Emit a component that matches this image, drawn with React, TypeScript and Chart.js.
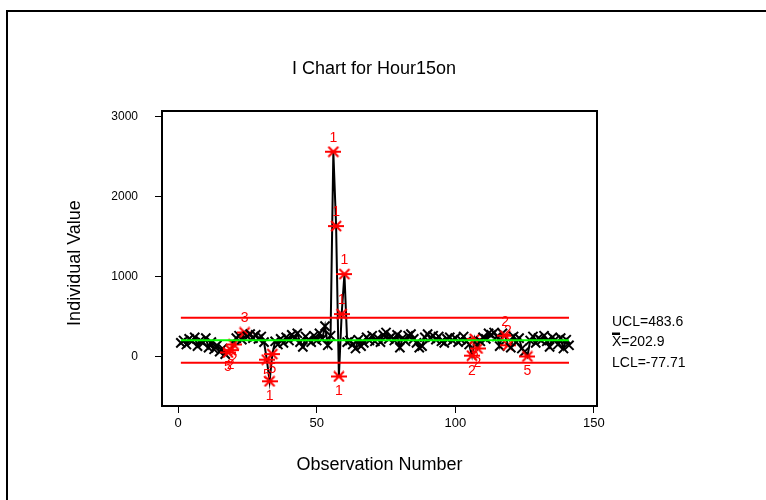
import { useEffect, useRef } from "react";
import { Chart, registerables } from "chart.js";
Chart.register(...registerables);

const VALUES: number[] = [
  170, 200, 150, 220, 190, 240, 130, 200, 170, 230,
  110, 180, 90, 140, 60, 100, 30, 50, 80, 150,
  230, 260, 210, 300, 250, 280, 230, 270, 220, 250,
  180, -40, -310, 30, 190, 150, 220, 170, 240, 200,
  270, 230, 290, 180, 120, 250, 210, 180, 260, 200,
  290, 220, 380, 140, 260, 2560, 1630, -250, 530, 1030,
  180, 200, 150, 100, 210, 130, 170, 240, 200, 260,
  190, 230, 180, 270, 300, 220, 250, 200, 270, 110,
  230, 190, 260, 280, 220, 170, 110, 130, 240, 280,
  230, 260, 210, 250, 190, 170, 220, 240, 200, 230,
  180, 210, 250, 190, 150, 10, 220, 100, 190, 240,
  220, 290, 270, 300, 250, 130, 290, 260, 140, 110,
  250, 180, 230, 100, 60, 0, 200, 250, 170, 230,
  200, 260, 190, 120, 240, 210, 150, 230, 100, 210,
  140,
];

const FLAG_INDEX: number[] = [18, 19, 20, 24, 32, 33, 34, 56, 57, 58, 59, 60, 106, 107, 108, 118, 119, 126];
const FLAG_TEXT: string[] = ["5", "2", "2", "3", "5", "1", "5", "1", "1", "1", "1", "1", "2", "5", "2", "2", "2", "5"];
const FLAG_BELOW: boolean[] = [true, true, true, false, true, true, true, false, false, true, false, false, true, true, true, false, false, true];

const UCL = 483.6;
const CENTER = 202.9;
const LCL = -77.71;
const CONTROL_LABELS = ["UCL=483.6", "X=202.9", "LCL=-77.71"];

const X_TICKS = [0, 50, 100, 150];
const Y_TICKS = [0, 1000, 2000, 3000];

const TITLE = "I Chart for Hour15on";
const X_TITLE = "Observation Number";
const Y_TITLE = "Individual Value";

const FONT = "'Liberation Sans', Arial, sans-serif";

function makeStar(color: string): HTMLCanvasElement {
  const c = document.createElement("canvas");
  c.width = 16;
  c.height = 12;
  const g = c.getContext("2d")!;
  g.strokeStyle = color;
  g.lineWidth = 2;
  g.beginPath();
  g.moveTo(3, 1);
  g.lineTo(13, 11);
  g.moveTo(13, 1);
  g.lineTo(3, 11);
  g.moveTo(0, 6);
  g.lineTo(16, 6);
  g.stroke();
  return c;
}

export default function App() {
  const ref = useRef<HTMLCanvasElement | null>(null);

  useEffect(() => {
    if (!ref.current) return;
    const star = makeStar("#ff0000");
    const n = VALUES.length;
    const flagged = new Set(FLAG_INDEX);

    const decor = {
      id: "decor",
      afterDatasetsDraw(chart: any) {
        const ctx = chart.ctx as CanvasRenderingContext2D;
        const xs = chart.scales.x;
        const ys = chart.scales.y;
        const a = chart.chartArea;
        ctx.save();
        ctx.fillStyle = "#ff0000";
        ctx.font = `14px ${FONT}`;
        ctx.textAlign = "center";
        ctx.textBaseline = "middle";
        FLAG_INDEX.forEach((idx, k) => {
          const px = xs.getPixelForValue(idx);
          const py = ys.getPixelForValue(VALUES[idx - 1]);
          ctx.fillText(FLAG_TEXT[k], px, FLAG_BELOW[k] ? py + 15 : py - 14);
        });
        ctx.strokeStyle = "#000";
        ctx.lineWidth = 2;
        ctx.strokeRect(a.left, a.top, a.right - a.left, a.bottom - a.top);
        ctx.strokeRect(7, 11, 1000, 1000);
        ctx.fillStyle = "#000";
        ctx.font = `18px ${FONT}`;
        ctx.fillText(TITLE, 374, 69);
        ctx.fillText(X_TITLE, (a.left + a.right) / 2, 465);
        ctx.save();
        ctx.translate(75, 263);
        ctx.rotate(-Math.PI / 2);
        ctx.fillText(Y_TITLE, 0, 0);
        ctx.restore();
        ctx.font = `14px ${FONT}`;
        ctx.textAlign = "left";
        const vals = [UCL, CENTER, LCL];
        const offs = [4, 2, 0];
        vals.forEach((v, k) => {
          const py = ys.getPixelForValue(v) + offs[k];
          ctx.fillText(CONTROL_LABELS[k], a.right + 15, py);
          if (k === 1) {
            ctx.lineWidth = 2.5;
            ctx.beginPath();
            ctx.moveTo(a.right + 15, py - 8.5);
            ctx.lineTo(a.right + 23, py - 8.5);
            ctx.stroke();
          }
        });
        ctx.restore();
      },
    };

    const line = (v: number) => [
      { x: 1, y: v },
      { x: n, y: v },
    ];

    const chart = new Chart(ref.current, {
      type: "scatter",
      data: {
        datasets: [
          { data: line(UCL), showLine: true, borderColor: "#ff0000", borderWidth: 2, pointRadius: 0, order: 1 },
          { data: line(LCL), showLine: true, borderColor: "#ff0000", borderWidth: 2, pointRadius: 0, order: 1 },
          { data: line(CENTER), showLine: true, borderColor: "#00ff00", borderWidth: 2, pointRadius: 0, order: 1 },
          {
            data: VALUES.map((v, i) => ({ x: i + 1, y: v })),
            showLine: true,
            borderColor: "#000",
            borderWidth: 2,
            pointRadius: 6.5,
            pointBorderWidth: 2,
            pointBorderColor: "#000",
            pointBackgroundColor: "#000",
            pointStyle: (c: any) => (flagged.has(c.dataIndex + 1) ? star : "crossRot"),
            order: 2,
          } as any,
        ],
      },
      options: {
        responsive: false,
        maintainAspectRatio: false,
        animation: false,
        layout: { padding: { left: 0, right: 169, top: 111, bottom: 0 } },
        plugins: { legend: { display: false }, tooltip: { enabled: false }, title: { display: false } },
        scales: {
          x: {
            type: "linear",
            min: -5.8,
            max: 151.1,
            afterBuildTicks: (s: any) => {
              s.ticks = X_TICKS.map((v) => ({ value: v }));
            },
            afterFit: (s: any) => {
              s.height = 94;
            },
            grid: { drawOnChartArea: false, drawTicks: true, tickLength: 7, color: "#000", lineWidth: 1 },
            border: { display: false },
            ticks: { color: "#000", font: { family: FONT, size: 13 }, padding: 3, maxRotation: 0, callback: (v: any) => String(v) },
          },
          y: {
            type: "linear",
            min: -619,
            max: 3069,
            afterBuildTicks: (s: any) => {
              s.ticks = Y_TICKS.map((v) => ({ value: v }));
            },
            afterFit: (s: any) => {
              s.width = 162;
            },
            grid: { drawOnChartArea: false, drawTicks: true, tickLength: 7, color: "#000", lineWidth: 1 },
            border: { display: false },
            ticks: { color: "#000", font: { family: FONT, size: 12 }, padding: 17, callback: (v: any) => String(v) },
          },
        },
      },
      plugins: [decor],
    } as any);
    return () => chart.destroy();
  }, []);

  return (
    <canvas
      ref={ref}
      width={766}
      height={500}
      style={{ position: "absolute", left: 0, top: 0, display: "block" }}
    />
  );
}
